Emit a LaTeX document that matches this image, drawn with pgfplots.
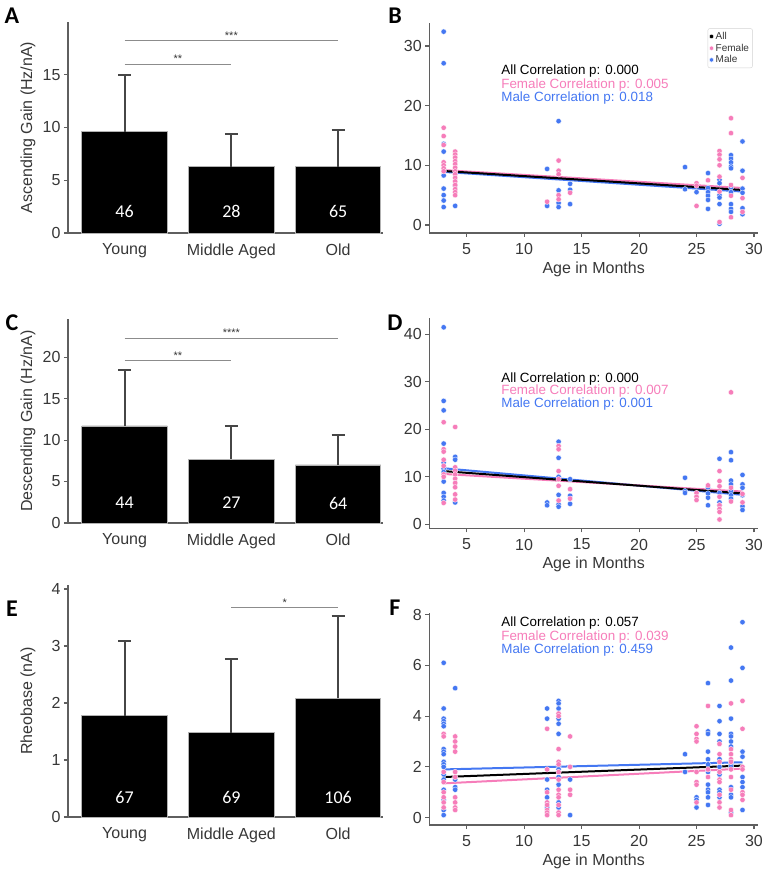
\documentclass[border=0pt]{standalone}
\usepackage{pgfplots}
\pgfplotsset{compat=1.18}
\usepackage{fontspec}
\setmainfont{Liberation Sans}
\newfontfamily\calfont{Carlito}

\definecolor{pinkc}{RGB}{246,125,186}
\definecolor{bluec}{RGB}{68,119,242}
\definecolor{axgray}{RGB}{95,95,95}
\definecolor{labgray}{RGB}{55,55,55}
\definecolor{errgray}{RGB}{70,70,70}
\definecolor{siggray}{RGB}{140,140,140}

\pgfplotsset{
  panel/.style={
    scale only axis, clip=false,
    axis lines*=left,
    axis line style={axgray, line width=1.2pt},
    tick style={axgray, line width=1.1pt},
    tick align=outside, major tick length=4pt,
    ticklabel style={font=\fontsize{16}{16}\selectfont, text=labgray},
    xticklabel style={yshift=-3pt},
    /pgf/number format/assume math mode=true,
    label style={font=\fontsize{16}{16}\selectfont, text=labgray},
  },
  barpanel/.style={
    panel, width=315pt, xmin=-0.53, xmax=2.42, ymin=0,
    xtick={0,1,2}, xticklabels={Young, Middle Aged, Old},
    x tick style={draw=none},
    every axis y label/.style={at={(axis description cs:-0.127,0.5)}, rotate=90, anchor=center,
      font=\fontsize{16}{16}\selectfont, text=labgray},
  },
  scatpanel/.style={
    panel, width=328.7pt, xmin=1.75, xmax=30.35,
    xtick={5,10,15,20,25,30}, xlabel={Age in Months},
    xlabel style={yshift=0pt},
  },
  bars/.style={
    ybar, bar width=0.8, fill=black, draw=gray!60, line width=0.8pt,
    error bars/.cd, y dir=plus, y explicit,
    error bar style={errgray, line width=2pt},
    error mark options={rotate=90, mark size=6.5pt, errgray, line width=2pt},
  },
  malepts/.style={only marks, mark=*, mark size=2.7pt, forget plot,
    mark options={fill=bluec, draw=white, line width=0.3pt}},
  femalepts/.style={only marks, mark=*, mark size=2.7pt, forget plot,
    mark options={fill=pinkc, draw=white, line width=0.3pt}},
  fitline/.style={line width=2pt, forget plot},
}
\newcommand{\cnt}[2]{\node[text=white, font=\calfont\fontsize{18}{18}\selectfont] at (axis cs:#1) {#2};}
\newcommand{\sig}[4]{%
  \draw[siggray, line width=1pt] (axis cs:#1,#3) -- (axis cs:#2,#3);
  \node[text=labgray, font=\fontsize{11}{11}\selectfont, anchor=south, inner sep=1pt] at (axis cs:{(#1+#2)/2},#3) {#4};}
\newcommand{\corr}[4]{%
  \node[anchor=west, inner sep=0pt, font=\fontsize{13.4}{13.4}\selectfont, text=black] at (axis cs:8,#1) {All Correlation p: #2};
  \node[anchor=west, inner sep=0pt, font=\fontsize{13.4}{13.4}\selectfont, text=pinkc] at (axis cs:8,#3) {Female Correlation p: #4};}
\newcommand{\corrm}[2]{%
  \node[anchor=west, inner sep=0pt, font=\fontsize{13.4}{13.4}\selectfont, text=bluec] at (axis cs:8,#1) {Male Correlation p: #2};}

\begin{document}
\begin{tikzpicture}
\path[use as bounding box] (0pt,0pt) rectangle (767pt,872pt);

% ---------------- A: ascending gain by age group ----------------
\begin{axis}[barpanel, at={(68pt,639pt)}, anchor=south west, height=211pt,
  ymax=20.0, ytick={0,5,10,15}, ylabel={Ascending Gain (Hz/nA)}]
\addplot[bars] table[x=x, y=y, y error=e] {
x y e
0 9.6 5.4
1 6.3 3.1
2 6.3 3.5
};
\cnt{0,2.0}{46}\cnt{1,2.0}{28}\cnt{2,2.0}{65}
\sig{0}{1}{16.0}{**}
\sig{0}{2}{18.2}{***}
\end{axis}

% ---------------- B: ascending gain vs age ----------------
\begin{axis}[scatpanel, at={(429.3pt,639pt)}, anchor=south west, height=210.3pt,
  ymin=-1.34, ymax=33.9, ytick={0,10,20,30},
  legend style={at={(0.984,0.973)}, anchor=north east, draw=gray!35, rounded corners=2pt,
    font=\fontsize{10}{10}\selectfont, inner sep=1.5pt, row sep=-1pt, text=labgray},
  legend cell align=left]
\addplot[malepts] table {
x y
3 32.4
3 27.1
3 13.6
3 12.3
3 9.2
3 8.3
3 6.1
3 5.0
3 4.1
3 3.0
4 6.6
4 3.2
12 9.4
12 3.2
13 17.4
13 5.8
13 3.7
13 3.0
14 6.9
14 5.9
14 3.5
24 9.7
24 6.0
25 5.5
26 8.7
26 6.2
26 5.5
26 4.9
26 4.2
26 2.7
27 7.6
27 7.0
27 5.0
27 4.6
27 3.5
27 0.2
28 11.7
28 11.1
28 10.5
28 9.8
28 9.5
28 6.3
28 5.5
28 3.5
28 2.7
28 2.2
29 14.0
29 9.1
29 6.1
29 5.4
29 2.8
29 1.8
};
\addplot[femalepts] table {
x y
3 16.3
3 14.9
3 13.4
3 10.5
3 10.0
3 9.5
3 9.0
4 12.3
4 11.8
4 11.3
4 10.7
4 10.2
4 9.6
4 9.0
4 8.5
4 7.9
4 7.3
4 6.7
4 6.0
4 5.5
4 5.0
12 3.9
13 10.8
13 9.1
13 8.5
13 5.0
13 4.3
14 5.4
25 7.0
25 6.6
25 3.2
26 7.5
27 12.4
27 11.8
27 11.0
27 10.0
27 8.1
27 5.6
27 0.5
28 17.9
28 15.4
28 6.7
28 4.9
28 1.3
29 7.9
29 4.5
29 2.2
};
\addplot[fitline, bluec] coordinates {(3,8.9) (29,5.6)};
\addplot[fitline, pinkc] coordinates {(3,9.2) (29,6.2)};
\addplot[fitline, black] coordinates {(3,9.05) (29,5.87)};
\corr{25.8}{0.000}{23.4}{0.005}\corrm{21.2}{0.018}
\addlegendimage{only marks, mark=*, mark size=2.2pt, mark options={fill=black, draw=white}}
\addlegendentry{All}
\addlegendimage{only marks, mark=*, mark size=2.2pt, mark options={fill=pinkc, draw=white}}
\addlegendentry{Female}
\addlegendimage{only marks, mark=*, mark size=2.2pt, mark options={fill=bluec, draw=white}}
\addlegendentry{Male}
\end{axis}

% ---------------- C: descending gain by age group ----------------
\begin{axis}[barpanel, at={(68pt,349pt)}, anchor=south west, height=204pt,
  ymax=24.6, ytick={0,5,10,15,20}, ylabel={Descending Gain (Hz/nA)}]
\addplot[bars] table[x=x, y=y, y error=e] {
x y e
0 11.7 6.8
1 7.7 4.0
2 7.0 3.6
};
\cnt{0,2.4}{44}\cnt{1,2.4}{27}\cnt{2,2.4}{64}
\sig{0}{1}{19.6}{**}
\sig{0}{2}{22.3}{****}
\end{axis}

% ---------------- D: descending gain vs age ----------------
\begin{axis}[scatpanel, at={(429.3pt,343.7pt)}, anchor=south west, height=210pt,
  ymin=-0.85, ymax=43.4, ytick={0,10,20,30,40}]
\addplot[malepts] table {
x y
3 41.5
3 26.0
3 24.0
3 17.0
3 13.0
3 11.7
3 11.0
3 9.0
3 6.6
3 5.8
3 5.0
4 14.2
4 13.6
4 4.6
12 4.6
12 4.0
13 17.4
13 14.0
13 10.0
13 6.2
13 4.2
13 3.7
14 9.5
14 6.0
14 4.3
24 9.8
24 7.0
24 6.6
26 7.8
26 6.5
26 5.6
26 4.0
27 13.8
27 6.6
27 4.6
27 4.0
28 15.2
28 13.5
28 9.2
28 8.4
28 7.0
28 6.1
28 5.4
29 10.4
29 8.4
29 7.7
29 6.1
29 3.8
29 3.0
};
\addplot[femalepts] table {
x y
3 21.5
3 15.8
3 15.3
3 13.6
3 12.3
3 10.5
3 10.0
3 4.5
4 20.5
4 12.0
4 11.3
4 10.5
4 9.6
4 8.7
4 7.8
4 6.3
4 5.2
13 16.5
13 15.8
13 11.2
13 9.5
13 8.1
13 5.0
14 7.4
14 5.4
25 6.6
25 5.8
25 5.1
26 8.2
27 11.2
27 9.1
27 8.0
27 5.8
27 4.0
27 3.2
27 2.6
27 1.0
28 27.8
28 7.7
28 4.8
29 6.4
29 4.6
};
\addplot[fitline, bluec] coordinates {(3,11.8) (29,6.2)};
\addplot[fitline, pinkc] coordinates {(3,10.6) (29,6.9)};
\addplot[fitline, black] coordinates {(3,11.2) (29,6.5)};
\corr{30.7}{0.000}{28.1}{0.007}\corrm{25.3}{0.001}
\end{axis}

% ---------------- E: rheobase by age group ----------------
\begin{axis}[barpanel, at={(68pt,55pt)}, anchor=south west, height=232pt,
  ymax=4.07, ytick={0,1,2,3,4}, ylabel={Rheobase (nA)}]
\addplot[bars] table[x=x, y=y, y error=e] {
x y e
0 1.78 1.30
1 1.48 1.30
2 2.08 1.44
};
\cnt{0,0.35}{67}\cnt{1,0.35}{69}\cnt{2,0.35}{106}
\sig{1}{2}{3.67}{*}
\end{axis}

% ---------------- F: rheobase vs age ----------------
\begin{axis}[scatpanel, at={(429.3pt,47pt)}, anchor=south west, height=211.7pt,
  ymin=-0.29, ymax=8.05, ytick={0,2,4,6,8}]
\addplot[malepts] table {
x y
3 6.1
3 4.3
3 3.9
3 3.8
3 3.7
3 3.6
3 2.7
3 2.6
3 2.5
3 2.2
3 2.1
3 2.0
3 1.7
3 1.5
3 1.1
3 0.7
3 0.3
3 0.1
4 5.1
4 1.5
4 1.2
4 1.1
12 4.3
12 3.9
12 1.5
12 1.1
12 0.8
12 0.4
13 4.6
13 4.5
13 4.3
13 3.9
13 3.7
13 3.3
13 2.0
13 1.9
13 1.6
13 1.3
13 0.6
13 0.4
14 1.5
14 0.1
24 2.5
24 1.8
25 0.8
25 0.7
25 0.4
26 5.3
26 3.4
26 3.3
26 2.6
26 2.3
26 2.1
26 1.8
26 1.3
26 1.1
26 1.0
26 0.8
26 0.5
27 4.4
27 3.8
27 3.3
27 3.0
27 2.3
27 2.0
27 1.7
27 1.1
27 1.0
27 0.8
28 6.7
28 5.4
28 3.9
28 3.3
28 3.2
28 3.0
28 2.8
28 2.1
28 2.0
28 1.2
28 0.9
28 0.8
28 0.2
29 7.7
29 5.9
29 2.6
29 2.4
29 1.6
29 1.4
29 1.2
29 0.3
};
\addplot[femalepts] table {
x y
3 3.3
3 3.2
3 1.8
3 1.4
3 1.0
3 0.8
3 0.6
3 0.4
4 3.2
4 3.0
4 2.8
4 2.6
4 1.8
4 1.6
4 0.8
4 0.6
4 0.4
4 0.3
12 3.5
12 1.9
12 1.0
12 0.6
12 0.5
12 0.3
12 0.2
12 0.1
13 4.1
13 4.0
13 2.7
13 2.2
13 2.1
13 1.8
13 1.5
13 1.1
13 0.9
13 0.8
13 0.5
13 0.2
13 0.1
14 3.2
14 2.0
14 1.1
14 0.9
25 3.6
25 3.3
25 3.1
25 3.0
25 1.8
25 1.4
25 1.3
25 0.6
26 4.4
26 1.9
26 1.6
27 2.9
27 2.5
27 2.2
27 1.8
27 1.5
27 1.4
27 0.9
27 0.6
27 0.4
28 4.5
28 2.7
28 2.5
28 2.3
28 2.2
28 1.9
28 1.6
28 1.1
28 0.3
28 0.1
29 4.6
29 3.5
29 2.0
29 1.9
29 1.0
29 0.9
29 0.7
};
\addplot[fitline, bluec] coordinates {(3,1.9) (29,2.18)};
\addplot[fitline, pinkc] coordinates {(3,1.35) (29,1.93)};
\addplot[fitline, black] coordinates {(3,1.6) (29,2.05)};
\corr{7.65}{0.057}{7.12}{0.039}\corrm{6.62}{0.459}
\end{axis}

% panel letters
\foreach \l/\px/\py in {A/12/856, B/395/856, C/12/549, D/395/549, E/12/263, F/395/264}
  \node[font=\calfont\bfseries\fontsize{24}{24}\selectfont] at (\px pt,\py pt) {\l};
\end{tikzpicture}
\end{document}
